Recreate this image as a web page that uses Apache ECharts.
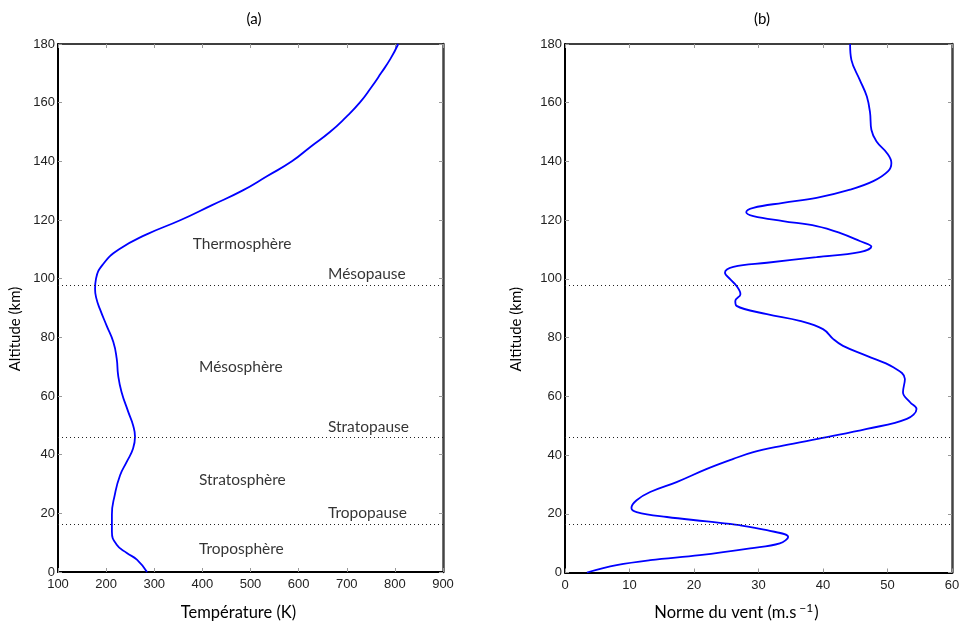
<!DOCTYPE html>
<html>
<head>
<meta charset="utf-8">
<script src="https://cdn.jsdelivr.net/npm/echarts@6/dist/echarts.min.js"></script>
<style>html,body{margin:0;padding:0;background:#fff}#c{width:964px;height:626px}</style>
</head>
<body>
<div id="c"></div>
<script>
// Temperature profile (K) vs altitude (km)
const tempAlt = [0, 4.2, 6.5, 9.3, 13.8, 19.5, 26.3, 33, 37.6, 42.1, 46.1, 50, 54.6, 61.4, 67, 72.7, 78.4, 84, 89.7, 93.1, 96.5, 100, 105, 110, 115, 120, 125, 130, 135, 140, 145, 150, 155, 160, 165, 170, 175, 180];
const tempK = [285, 264, 243, 222, 212, 212, 218, 229, 243, 256, 260, 256, 246, 232, 225, 222, 215, 201, 187, 180, 177, 179, 194, 227, 283, 355, 419, 483, 535, 586, 625, 665, 698, 727, 750, 771, 791, 807];
// Wind speed (m/s) vs altitude (km)
const windAlt = [0, 2.5, 4.2, 5.9, 8.2, 9.9, 12.1, 14.4, 16.1, 17.4, 18.9, 20.6, 22, 24.6, 27.4, 30.8, 35.3, 38.7, 41, 43.2, 46.1, 48.9, 52.3, 55.7, 58, 61.4, 65.9, 69.9, 73.8, 77.2, 79.5, 82.9, 85.7, 88, 90.8, 92.5, 94.8, 97.6, 99.9, 102.1, 104.1, 105.5, 107.4, 109.1, 111, 112.9, 115.7, 118, 119.7, 121.4, 122.7, 124.2, 125.9, 127.6, 130.4, 133.3, 136.7, 139.5, 142.9, 146.8, 150.8, 156.5, 162.1, 167.8, 174.6, 180];
const windV = [3.4, 8, 13.2, 20.9, 28.7, 33.3, 34.6, 31.3, 27.1, 22, 15.8, 11.1, 10.3, 11.1, 13.2, 17.3, 22, 26.1, 29.2, 33.8, 40.6, 46.8, 53, 54.5, 53.5, 52.4, 52.7, 50.9, 46.8, 43.1, 41.6, 40, 36.4, 31.3, 26.6, 26.4, 27.2, 26.6, 25.6, 24.8, 26.1, 31.3, 39, 45.7, 47.5, 45.7, 42.6, 39, 33.8, 29.2, 28.1, 29.2, 33.8, 39, 44.2, 47.8, 50.1, 50.6, 49.9, 48.3, 47.5, 47.3, 46.8, 45.7, 44.4, 44.2];
// Boundary altitudes (km): mesopause, stratopause, tropopause
const boundaryAlt = [97.8, 45.9, 16.3];
// Layer annotations
const layerNames = ['Thermosphère', 'Mésopause', 'Mésosphère', 'Stratopause', 'Stratosphère', 'Tropopause', 'Troposphère'];
const layerT = [380, 661, 393, 661, 393, 661, 393];
const layerAlt = [111.8, 101.6, 70, 49.6, 31.3, 20, 7.8];
const titles = ['(a)', '(b)'];

const tickFont = {color: '#222', fontSize: 13, fontFamily: 'Liberation Sans'};
const nameFont = {color: '#000', fontSize: 16.5, fontFamily: 'Lato'};

function xAx(grid, min, max, interval, name, pad, gap) {
  return [{
    gridIndex: grid, type: 'value', min: min, max: max, interval: interval, position: 'bottom',
    axisLine: {show: true, onZero: false, lineStyle: {color: '#000', width: 2}},
    axisTick: {show: true, inside: true, length: 4, lineStyle: {color: '#999'}},
    axisLabel: Object.assign({margin: 6}, tickFont),
    splitLine: {show: false},
    name: name, nameLocation: 'middle', nameGap: gap,
    nameTextStyle: Object.assign({padding: pad}, nameFont)
  }, {
    gridIndex: grid, type: 'value', min: min, max: max, interval: interval, position: 'top',
    axisLine: {show: true, onZero: false, lineStyle: {color: '#000', width: 1.5}},
    axisTick: {show: true, inside: true, length: 4, lineStyle: {color: '#999'}},
    axisLabel: {show: false}, splitLine: {show: false}
  }];
}
function yAx(grid, name, gap) {
  return [{
    gridIndex: grid, type: 'value', min: 0, max: 180, interval: 20, position: 'left',
    axisLine: {show: true, onZero: false, lineStyle: {color: '#000', width: 2}},
    axisTick: {show: true, inside: true, length: 4, lineStyle: {color: '#999'}},
    axisLabel: Object.assign({margin: 3}, tickFont),
    splitLine: {show: false},
    name: name, nameLocation: 'middle', nameGap: gap,
    nameTextStyle: Object.assign({padding: [0, 42, 0, 0]}, nameFont, {fontSize: 15})
  }, {
    gridIndex: grid, type: 'value', min: 0, max: 180, interval: 20, position: 'right',
    axisLine: {show: true, onZero: false, lineStyle: {color: '#444', width: 2.5}},
    axisTick: {show: true, inside: true, length: 4, lineStyle: {color: '#999'}},
    axisLabel: {show: false}, splitLine: {show: false}
  }];
}

const bLines = boundaryAlt.map(a => ({yAxis: a}));
const markLineCfg = {
  silent: true, symbol: 'none', label: {show: false},
  lineStyle: {type: [1, 3], color: '#222', width: 1},
  data: bLines
};

const option = {
  animation: false,
  backgroundColor: '#fff',
  grid: [
    {left: 58, right: 521, top: 44, bottom: 49},
    {left: 565, right: 12, top: 44, bottom: 49}
  ],
  title: [
    {text: titles[0], left: 249, top: 7, textAlign: 'center', textStyle: {fontSize: 15, fontWeight: 'normal', fontFamily: 'Lato', color: '#000'}},
    {text: titles[1], left: 757, top: 7, textAlign: 'center', textStyle: {fontSize: 15, fontWeight: 'normal', fontFamily: 'Lato', color: '#000'}}
  ],
  xAxis: [].concat(
    xAx(0, 100, 900, 100, 'Température (K)', [0, 24, 0, 0], 32),
    xAx(1, 0, 60, 10, 'Norme du vent (m.s{sup|−1})', [0, 44, 0, 0], 30)
  ),
  yAxis: [].concat(
    yAx(0, 'Altitude (km)', 35),
    yAx(1, 'Altitude (km)', 41)
  ),
  series: [
    {
      type: 'line', xAxisIndex: 0, yAxisIndex: 0, showSymbol: false, smooth: 0.5,
      lineStyle: {color: '#0000ff', width: 1.8}, itemStyle: {color: '#0000ff'},
      data: tempK.map((t, i) => [t, tempAlt[i]]),
      markLine: markLineCfg, z: 3
    },
    {
      type: 'line', xAxisIndex: 2, yAxisIndex: 2, showSymbol: false, smooth: 0.4,
      lineStyle: {color: '#0000ff', width: 1.8}, itemStyle: {color: '#0000ff'},
      data: windV.map((v, i) => [v, windAlt[i]]),
      markLine: markLineCfg, z: 3
    },
    {
      type: 'scatter', xAxisIndex: 0, yAxisIndex: 0, symbolSize: 0, silent: true,
      data: layerNames.map((n, i) => [layerT[i], layerAlt[i], n]),
      label: {show: true, position: 'right', distance: 0, formatter: p => p.value[2],
        color: '#000', fontSize: 15.5, fontFamily: 'Lato'}
    }
  ]
};
// superscript rich style for the wind axis name
option.xAxis[2].nameTextStyle.rich = {
  sup: {fontSize: 12, fontFamily: 'Lato', color: '#000', verticalAlign: 'top', padding: [0, 1, 8, 3]}
};
const chart = echarts.init(document.getElementById('c'), null, {renderer: 'canvas'});
chart.setOption(option);
</script>
</body>
</html>
